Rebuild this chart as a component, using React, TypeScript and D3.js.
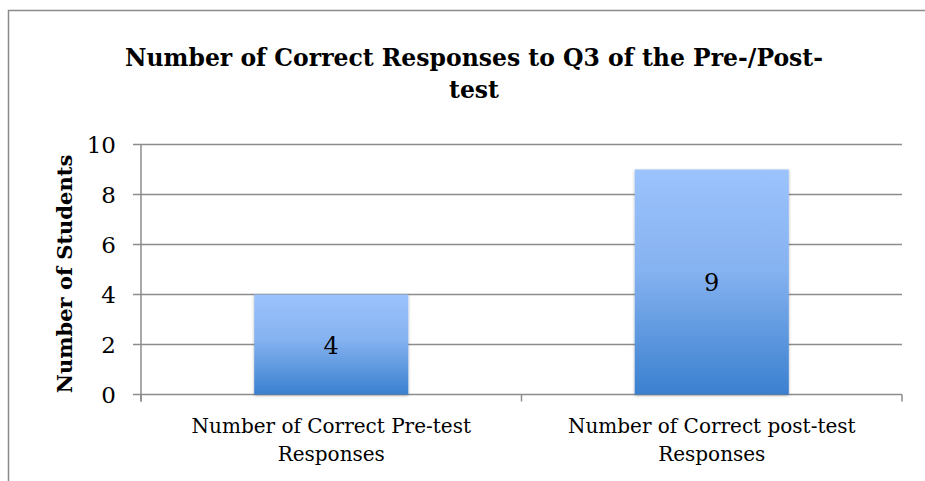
import React from "react";
import * as d3 from "d3";

const categories = ["Number of Correct Pre-test Responses", "Number of Correct post-test Responses"];
const categoryLines = [
  ["Number of Correct Pre-test", "Responses"],
  ["Number of Correct post-test", "Responses"],
];
const values = [4, 9];
const yTicks = [0, 2, 4, 6, 8, 10];
const titleLines = ["Number of Correct Responses to Q3 of the Pre-/Post-", "test"];
const yAxisTitle = "Number of Students";

const W = 925;
const H = 481;
const left = 141;
const right = 902;
const top = 144.5;
const bottom = 394.5;
const FONT = "'DejaVu Serif', serif";

export default function App() {
  const x = d3.scaleBand<string>().domain(categories).range([left, right]).padding(0);
  const y = d3.scaleLinear().domain([0, 10]).range([bottom, top]);
  const barW = x.step() * 0.405;
  const grid = "#8c8c8c";

  return (
    <svg
      width={W}
      height={H}
      style={{ position: "absolute", left: 0, top: 0, background: "#fff" }}
      fontFamily={FONT}
    >
      <defs>
        <linearGradient id="barGrad" x1="0" y1="0" x2="0" y2="1">
          <stop offset="0%" stopColor="#9cc3fc" />
          <stop offset="45%" stopColor="#85b2f0" />
          <stop offset="100%" stopColor="#3a80cf" />
        </linearGradient>
        <filter id="shadow" x="-10%" y="-10%" width="120%" height="120%">
          <feDropShadow dx="0" dy="1" stdDeviation="1.5" floodColor="#000" floodOpacity="0.3" />
        </filter>
      </defs>
      <rect x={0} y={0} width={W} height={H} fill="#fff" />
      {/* frame */}
      <path d={`M8.5,${H + 2} V10.5 H${W + 2}`} fill="none" stroke="#8a8a8a" strokeWidth={1.5} />

      {/* title */}
      {titleLines.map((t, i) => (
        <text
          key={i}
          x={474}
          y={66 + i * 32}
          textAnchor="middle"
          fontWeight="bold"
          fontSize={23.5}
          fill="#000"
        >
          {t}
        </text>
      ))}

      {/* gridlines */}
      {yTicks.map((t) => (
        <line
          key={t}
          x1={left - 8}
          x2={right}
          y1={y(t)}
          y2={y(t)}
          stroke={grid}
          strokeWidth={1.5}
        />
      ))}
      {/* y axis line */}
      <line x1={left} x2={left} y1={top} y2={bottom + 7} stroke={grid} strokeWidth={1.5} />
      {/* x ticks */}
      {[left, ...categories.map((c) => (x(c) as number) + x.step())].map((px, i) => (
        <line key={i} x1={px} x2={px} y1={bottom} y2={bottom + 7} stroke={grid} strokeWidth={1.5} />
      ))}

      {/* y tick labels */}
      {yTicks.map((t) => (
        <text key={t} x={116} y={y(t) + 8.5} textAnchor="end" fontSize={23} fill="#000">
          {t}
        </text>
      ))}

      {/* y axis title */}
      <text
        transform={`translate(72,274) rotate(-90)`}
        textAnchor="middle"
        fontWeight="bold"
        fontSize={21}
        fill="#000"
      >
        {yAxisTitle}
      </text>

      {/* bars */}
      {categories.map((c, i) => {
        const cx = (x(c) as number) + x.bandwidth() / 2;
        return (
          <g key={c}>
            <rect
              x={cx - barW / 2}
              y={y(values[i])}
              width={barW}
              height={bottom - y(values[i])}
              fill="url(#barGrad)"
              filter="url(#shadow)"
            />
            <text
              x={cx}
              y={(y(values[i]) + bottom) / 2 + 9}
              textAnchor="middle"
              fontSize={24}
              fill="#000"
            >
              {values[i]}
            </text>
            {categoryLines[i].map((ln, j) => (
              <text key={j} x={cx} y={433 + j * 28} textAnchor="middle" fontSize={20} fill="#000">
                {ln}
              </text>
            ))}
          </g>
        );
      })}
    </svg>
  );
}
